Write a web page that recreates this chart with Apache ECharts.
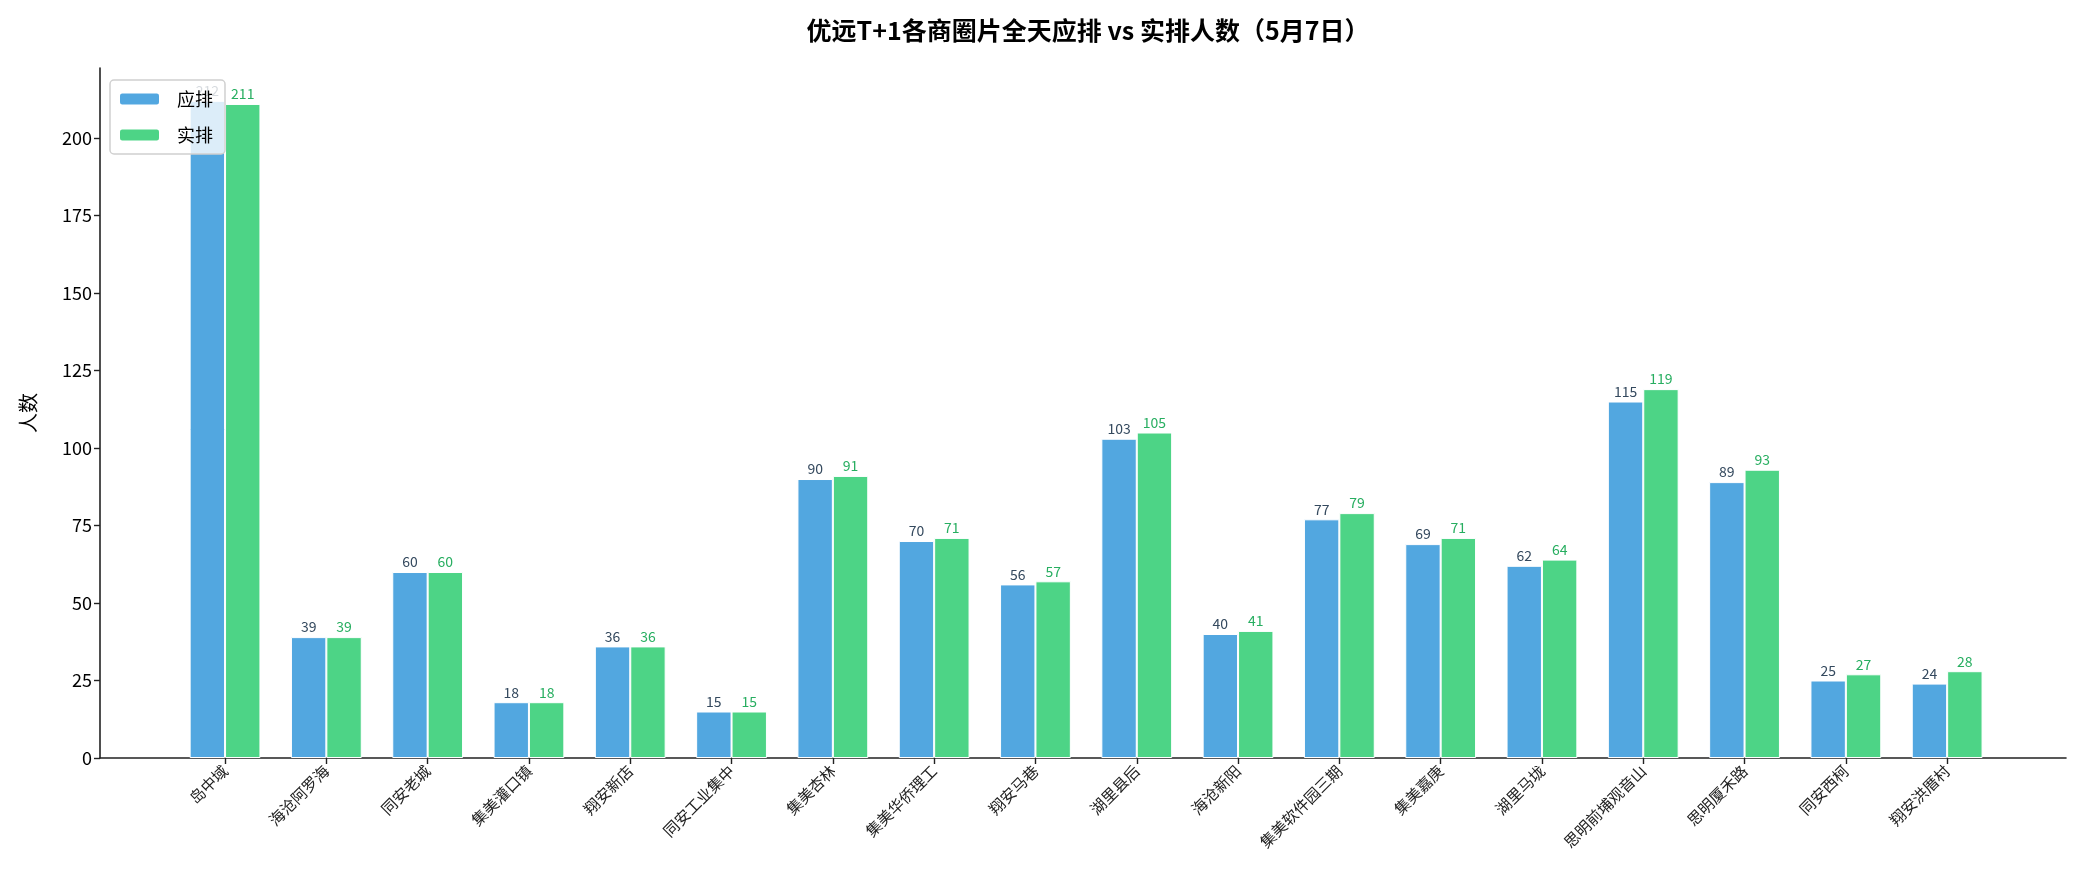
<!DOCTYPE html>
<html>
<head>
<meta charset="utf-8">
<style>
  html, body { margin: 0; padding: 0; background: #fff; }
  #main { width: 2086px; height: 883px; }
</style>
<script src="https://cdn.jsdelivr.net/npm/echarts@6/dist/echarts.min.js"></script>
</head>
<body>
<div id="main"></div>
<script>
// 商圈 names
var categories = ['岛中域', '海沧阿罗海', '同安老城', '集美灌口镇', '翔安新店', '同安工业集中',
    '集美杏林', '集美华侨理工', '翔安马巷', '湖里县后', '海沧新阳', '集美软件园三期',
    '集美嘉庚', '湖里马垅', '思明前埔观音山', '思明厦禾路', '同安西柯', '翔安洪厝村'];
var planned = [212, 39, 60, 18, 36, 15, 90, 70, 56, 103, 40, 77, 69, 62, 115, 89, 25, 24];   // 应排
var actual = [211, 39, 60, 18, 36, 15, 91, 71, 57, 105, 41, 79, 71, 64, 119, 93, 27, 28];    // 实排
var yTicks = [0, 25, 50, 75, 100, 125, 150, 175, 200];

var FONT = '"Noto Sans CJK SC", "Noto Sans", sans-serif';
var axisColor = '#222';

var chart = echarts.init(document.getElementById('main'), null, { renderer: 'canvas' });

var option = {
    backgroundColor: '#fff',
    animation: false,
    title: {
        text: '优远T+1各商圈片全天应排 vs 实排人数（5月7日）',
        left: 1083,
        textAlign: 'center',
        top: 13,
        textStyle: { fontFamily: FONT, fontSize: 25, fontWeight: 'bold', color: '#000' }
    },
    legend: {
        data: ['应排', '实排'],
        orient: 'vertical',
        left: 110,
        top: 80,
        z: 10,
        itemWidth: 41,
        itemHeight: 13,
        itemGap: 18,
        padding: [10, 12, 10, 8],
        backgroundColor: 'rgba(255,255,255,0.8)',
        borderColor: '#d0d0d0',
        borderWidth: 1.5,
        borderRadius: 4,
        textStyle: { fontFamily: FONT, fontSize: 18, color: '#000', padding: [0, 0, 0, 12] }
    },
    grid: [
        // frame grid: only carries the axis lines over the full plot area
        { left: 100, top: 68, width: 1966, height: 690, containLabel: false },
        // bar grid: categories spaced like the reference
        { left: 174.4, top: 68, width: 1823.4, height: 690, containLabel: false }
    ],
    xAxis: [
        {
            gridIndex: 0, type: 'value', min: 0, max: 1,
            axisLine: { show: true, lineStyle: { color: axisColor, width: 1.6 } },
            axisTick: { show: false }, axisLabel: { show: false }, splitLine: { show: false }
        },
        {
            gridIndex: 1, type: 'category', data: categories,
            axisLine: { show: false },
            axisTick: { show: true, alignWithLabel: true, length: 6, lineStyle: { color: axisColor, width: 1.4 } },
            axisLabel: {
                interval: 0, rotate: 45, margin: 10,
                fontFamily: FONT, fontSize: 15.5, color: '#222'
            },
            splitLine: { show: false }
        }
    ],
    yAxis: [
        {
            gridIndex: 0, type: 'value', min: 0, max: 222.6,
            name: '人数', nameLocation: 'middle', nameGap: 62,
            nameTextStyle: { fontFamily: FONT, fontSize: 20, color: '#000' },
            axisLine: { show: true, lineStyle: { color: axisColor, width: 1.6 } },
            axisTick: {
                show: true, length: 6, lineStyle: { color: axisColor, width: 1.4 },
                customValues: yTicks
            },
            axisLabel: {
                fontFamily: FONT, fontSize: 18, color: '#000', margin: 8,
                customValues: yTicks
            },
            splitLine: { show: false }
        },
        {
            gridIndex: 1, type: 'value', min: 0, max: 222.6,
            axisLine: { show: false }, axisTick: { show: false }, axisLabel: { show: false },
            splitLine: { show: false }
        }
    ],
    series: [
        {
            name: '应排', type: 'bar', xAxisIndex: 1, yAxisIndex: 1,
            data: planned, barWidth: 35.4, barGap: '0%',
            itemStyle: { color: '#52A7E0', borderColor: '#fff', borderWidth: 1 },
            label: {
                show: true, position: 'top', distance: 3,
                fontFamily: FONT, fontSize: 14, color: '#34495e'
            }
        },
        {
            name: '实排', type: 'bar', xAxisIndex: 1, yAxisIndex: 1,
            data: actual, barWidth: 35.4, barGap: '0%',
            itemStyle: { color: '#4DD486', borderColor: '#fff', borderWidth: 1 },
            label: {
                show: true, position: 'top', distance: 3,
                fontFamily: FONT, fontSize: 14, color: '#27ae60'
            }
        }
    ]
};

chart.setOption(option);
</script>
</body>
</html>
